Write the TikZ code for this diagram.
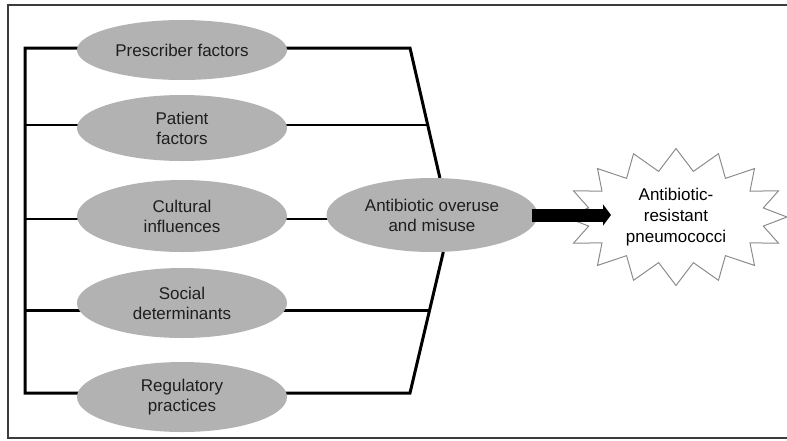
\documentclass[tikz,border=0pt]{standalone}
\usepackage{fontspec}
\setmainfont{Liberation Sans}
\usetikzlibrary{shapes.geometric,shapes.symbols,arrows.meta,backgrounds,calc}
\definecolor{ellgray}{RGB}{178,178,178}
\definecolor{framegray}{RGB}{60,60,60}
\definecolor{burstgray}{RGB}{140,140,140}
\definecolor{txt}{RGB}{30,30,30}
\begin{document}
\begin{tikzpicture}[x=1pt,y=-1pt,
  factor/.style={ellipse, fill=ellgray, minimum width=210pt, minimum height=66pt,
    inner sep=0pt, align=center, font=\fontsize{17}{20}\selectfont, text=txt},
  thickline/.style={line width=3pt, black},
  thinline/.style={line width=1.6pt, black},
  burst/.style={starburst, draw=burstgray, line width=1pt, starburst points=16,
    starburst point height=22pt, random starburst=0, minimum width=222pt,
    minimum height=137pt, inner sep=0pt, align=center,
    font=\fontsize{17}{21}\selectfont, text=black},
  bigarrow/.style={line width=13pt, black, -{Triangle[length=8pt,width=21pt]}}]
\clip (0,0) rectangle (787,440);
\draw[framegray, line width=1.8pt] (800,5) -- (8,5) -- (8,438) -- (800,438);
% factor ellipses
\node[factor, minimum height=60pt] (E1) at (182,50) {Prescriber factors};
\node[factor] (E2) at (182,128) {Patient\\factors};
\node[factor, minimum height=72pt] (E3) at (182,216) {Cultural\\influences};
\node[factor, minimum height=70pt] (E4) at (182,303) {Social\\determinants};
\node[factor, minimum height=70pt] (E5) at (182,397) {Regulatory\\practices};
\node[factor, minimum width=211pt, minimum height=74pt] (C) at (432,215) {Antibiotic overuse\\and misuse};
\node[burst] (R) at (676,217) {Antibiotic-\\resistant\\pneumococci};
% junctions
\coordinate (s1) at (25,48);  \coordinate (j1) at (410,48);
\coordinate (s2) at (25,125); \coordinate (j2) at (428,125);
\coordinate (s3) at (25,219);
\coordinate (s4) at (25,310); \coordinate (j4) at (430,310);
\coordinate (s5) at (25,393); \coordinate (j5) at (410,393);
\coordinate (tip) at (611,215);
\begin{scope}[on background layer]
  \draw[thickline, line join=miter] (C.78) -- (j1) -- (s1) -- (s5) -- (j5) -- (C.287);
  \draw[thinline] (s2) -- (j2);
  \draw[thinline] (s3) -- (s3 -| C.center);
  \draw[thickline] (s4) -- (j4);
\end{scope}
\draw[bigarrow] ($(C.east)+(-6,0)$) -- (tip);
\end{tikzpicture}
\end{document}
